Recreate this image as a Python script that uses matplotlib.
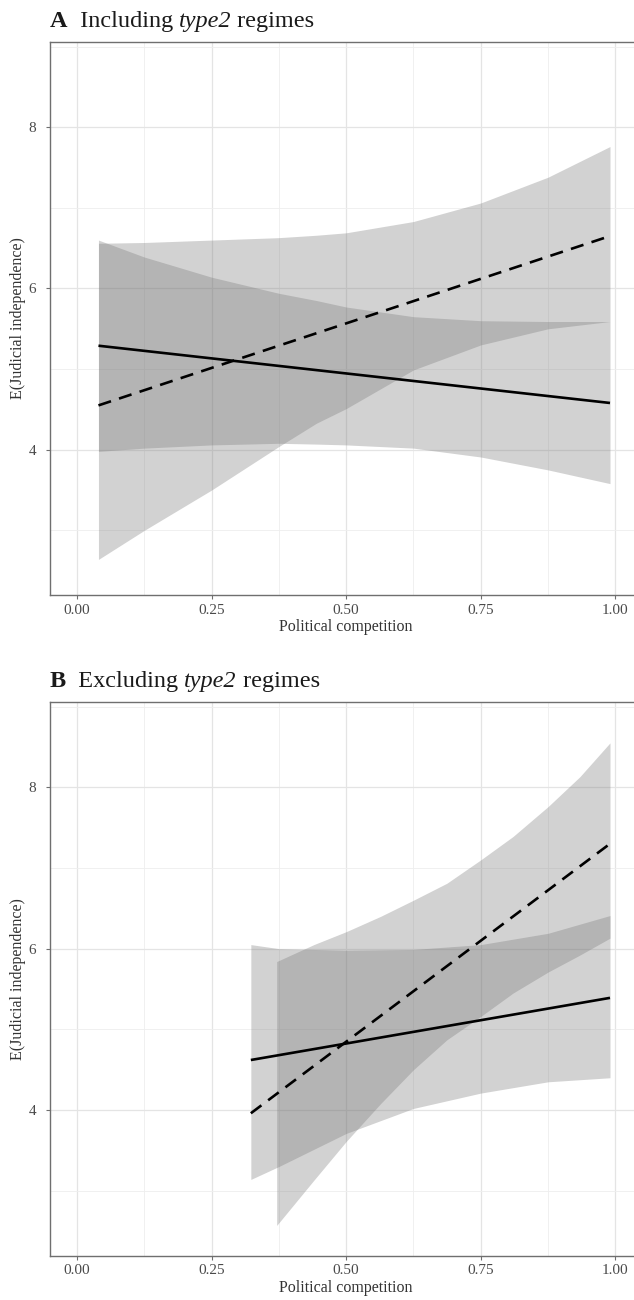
import matplotlib
matplotlib.use("Agg")
import matplotlib.pyplot as plt
from matplotlib.ticker import FixedLocator

plt.rcParams['font.family'] = ['Liberation Serif', 'DejaVu Serif']

# ---------------- Data ----------------
# Panel A (including type2 regimes)
a_x = [0.04, 0.125, 0.25, 0.375, 0.445, 0.50, 0.625, 0.75, 0.875, 0.99]
a_dash_upper = [6.56, 6.57, 6.60, 6.63, 6.66, 6.69, 6.83, 7.06, 7.38, 7.76]
a_dash_lower = [2.64, 3.00, 3.50, 4.04, 4.33, 4.51, 4.99, 5.30, 5.50, 5.59]
a_solid_upper = [6.60, 6.39, 6.14, 5.94, 5.85, 5.77, 5.65, 5.60, 5.59, 5.59]
a_solid_lower = [3.98, 4.02, 4.06, 4.08, 4.07, 4.06, 4.02, 3.91, 3.75, 3.58]
a_line_x = [0.04, 0.99]
a_solid_line = [5.29, 4.58]
a_dash_line = [4.55, 6.65]

# Panel B (excluding type2 regimes)
b_solid_x = [0.323, 0.375, 0.50, 0.625, 0.75, 0.875, 0.99]
b_solid_upper = [6.05, 6.00, 5.98, 5.99, 6.05, 6.19, 6.41]
b_solid_lower = [3.14, 3.30, 3.71, 4.02, 4.21, 4.35, 4.40]
b_dash_x = [0.371, 0.44, 0.50, 0.564, 0.625, 0.687, 0.75, 0.81, 0.875, 0.934, 0.99]
b_dash_upper = [5.84, 6.05, 6.21, 6.40, 6.60, 6.81, 7.10, 7.39, 7.76, 8.13, 8.55]
b_dash_lower = [2.57, 3.13, 3.61, 4.08, 4.50, 4.87, 5.16, 5.45, 5.71, 5.92, 6.13]
b_line_x = [0.323, 0.99]
b_solid_line = [4.62, 5.39]
b_dash_line = [3.96, 7.30]

x_ticks = [0.00, 0.25, 0.50, 0.75, 1.00]
x_tick_labels = ["0.00", "0.25", "0.50", "0.75", "1.00"]
y_ticks = [4, 6, 8]
title_parts = [
    [("A", 'normal', 'bold'), ("  Including ", 'normal', 'normal'),
     ("type2", 'italic', 'normal'), (" regimes", 'normal', 'normal')],
    [("B", 'normal', 'bold'), ("  Excluding ", 'normal', 'normal'),
     ("type2", 'italic', 'normal'), (" regimes", 'normal', 'normal')],
]
xlabel = "Political competition"
ylabel = "E(Judicial independence)"

# ---------------- Figure ----------------
W, H = 634, 1300
fig = plt.figure(figsize=(W / 100, H / 100), dpi=100)

def px_rect(left, top, right, bottom):
    return [left / W, 1 - bottom / H, (right - left) / W, (bottom - top) / H]

axA = fig.add_axes(px_rect(50, 41.7, 642.3, 595.3))
axB = fig.add_axes(px_rect(50, 701.7, 642.3, 1255.7))

fill_kw = dict(color='#777777', alpha=0.33, linewidth=0, zorder=2)
spine_col = '#6f6f6f'

def style(ax):
    ax.set_xlim(-0.05, 1.05)
    ax.set_ylim(2.195, 9.06)
    ax.set_xticks(x_ticks)
    ax.set_xticklabels(x_tick_labels)
    ax.set_yticks(y_ticks)
    ax.xaxis.set_minor_locator(FixedLocator([0.125, 0.375, 0.625, 0.875]))
    ax.yaxis.set_minor_locator(FixedLocator([3, 5, 7, 9]))
    ax.grid(which='major', color='#e4e4e4', linewidth=0.9, zorder=0)
    ax.grid(which='minor', color='#eeeeee', linewidth=0.6, zorder=0)
    ax.set_axisbelow(True)
    ax.tick_params(which='major', length=3, width=0.8, color=spine_col,
                   labelsize=11, labelcolor='#4a4a4a', pad=3)
    ax.tick_params(axis='y', which='major', pad=7)
    ax.tick_params(which='minor', length=0)
    for s in ax.spines.values():
        s.set_color(spine_col)
        s.set_linewidth(1.0)
    ax.set_xlabel(xlabel, fontsize=11.5, color='#333333', labelpad=2)
    ax.set_ylabel(ylabel, fontsize=11.5, color='#333333')
    ax.yaxis.set_label_coords(-0.041, 0.5)

# Panel A
axA.fill_between(a_x, a_dash_lower, a_dash_upper, **fill_kw)
axA.fill_between(a_x, a_solid_lower, a_solid_upper, **fill_kw)
axA.plot(a_line_x, a_solid_line, color='black', lw=1.9, zorder=3,
         solid_capstyle='butt')
axA.plot(a_line_x, a_dash_line, color='black', lw=1.9, zorder=3,
         dashes=(5, 3.2), dash_capstyle='butt')
style(axA)

# Panel B
axB.fill_between(b_solid_x, b_solid_lower, b_solid_upper, **fill_kw)
axB.fill_between(b_dash_x, b_dash_lower, b_dash_upper, **fill_kw)
axB.plot(b_line_x, b_solid_line, color='black', lw=1.9, zorder=3,
         solid_capstyle='butt')
axB.plot(b_line_x, b_dash_line, color='black', lw=1.9, zorder=3,
         dashes=(5, 3.2), dash_capstyle='butt')
style(axB)

# Titles built from styled pieces
renderer = fig.canvas.get_renderer()
for parts, base_px in zip(title_parts, [27, 686.7]):
    x_px = 50.0
    for txt, fstyle, fweight in parts:
        t = fig.text(x_px / W, 1 - base_px / H, txt, fontsize=17.5,
                     color='#1a1a1a', ha='left', va='baseline',
                     fontstyle=fstyle, fontweight=fweight)
        bb = t.get_window_extent(renderer=renderer)
        x_px += bb.width

fig.savefig("out.png", dpi=100, facecolor='white')
